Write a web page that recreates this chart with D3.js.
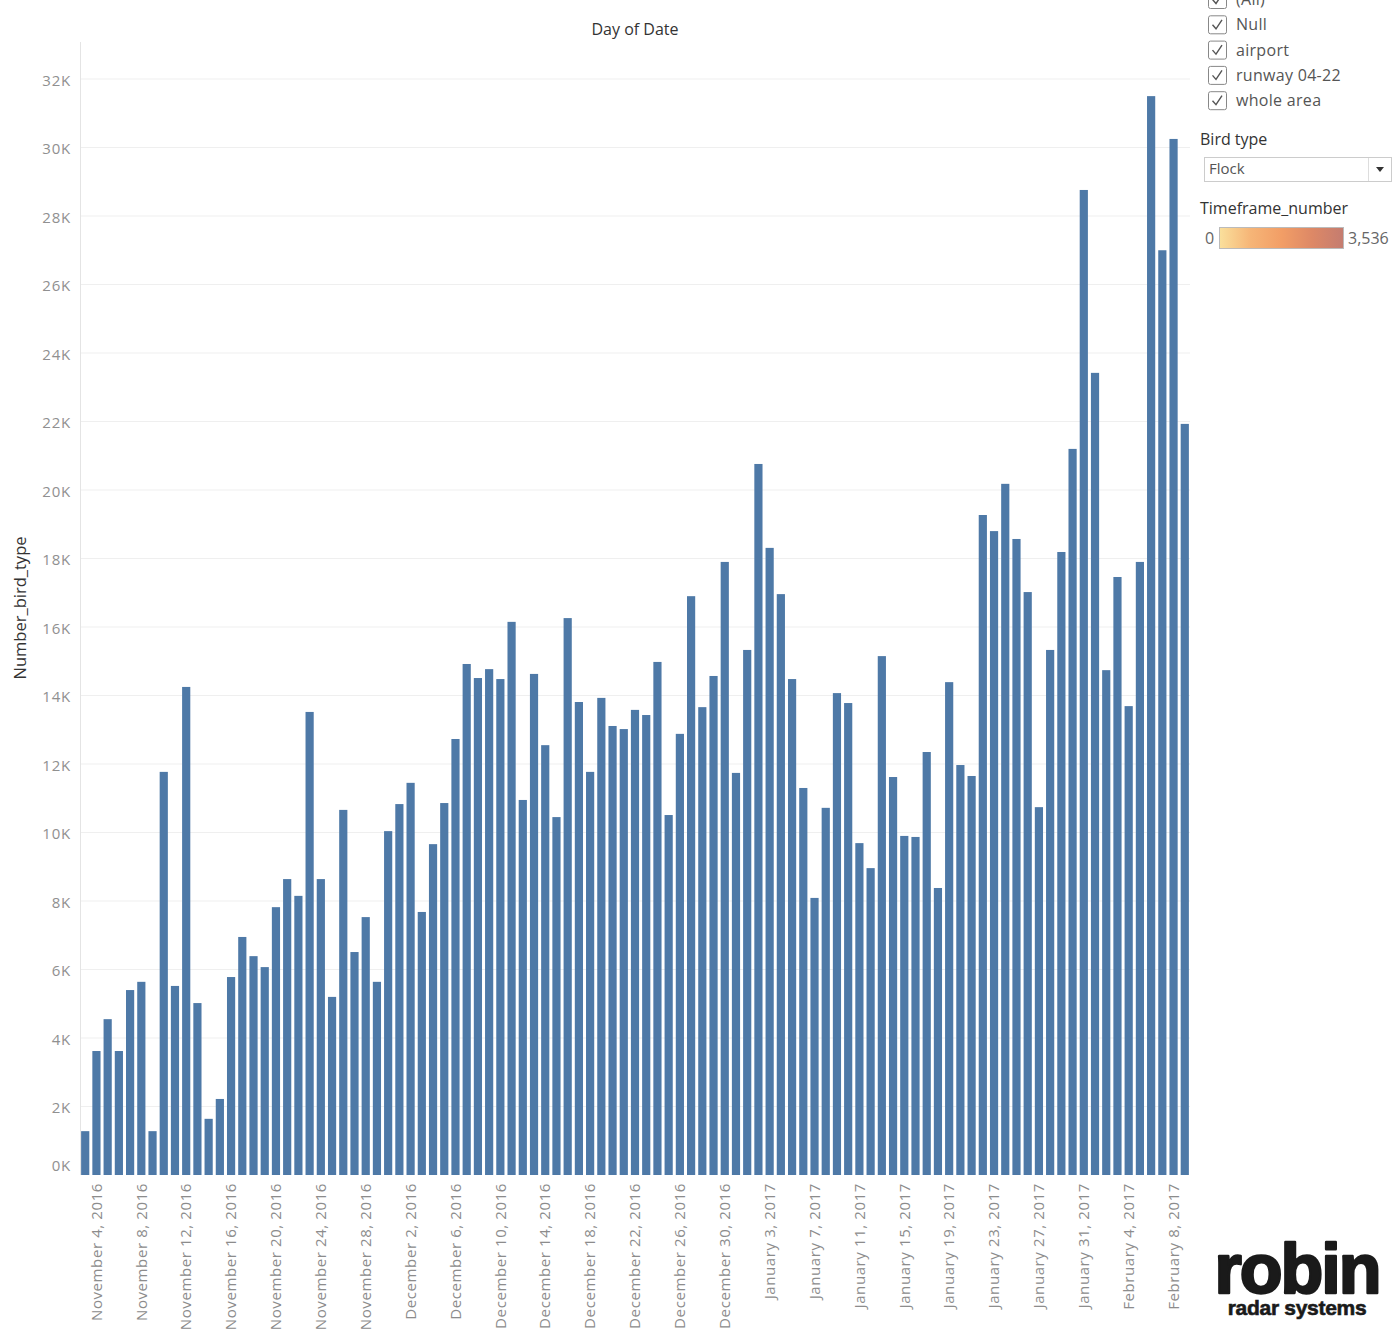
<!DOCTYPE html>
<html>
<head>
<meta charset="utf-8">
<script src="https://cdn.jsdelivr.net/npm/d3@7"></script>
<style>
  html, body { margin: 0; padding: 0; background: #fff; }
  svg { display: block; }
  text { font-family: "Open Sans", "Noto Sans", sans-serif; }
</style>
</head>
<body>
<svg id="chart" width="1396" height="1341"></svg>
<script>
// ---- data ----
const startDate = "2016-11-03";
const endDate = "2017-02-09";
const values = [
  1280, 3620, 4550, 3620, 5400, 5640, 1280, 11770, 5520, 14250,
  5020, 1640, 2220, 5780, 6950, 6390, 6070, 7820, 8640, 8150,
  13520, 8640, 5200, 10660, 6510, 7530, 5640, 10040, 10830, 11450,
  7680, 9660, 10860, 12730, 14920, 14510, 14770, 14480, 16150, 10950,
  14630, 12550, 10450, 16260, 13810, 11770, 13930, 13110, 13020, 13580,
  13430, 14980, 10510, 12880, 16900, 13660, 14570, 17900, 11740, 15330,
  20760, 18310, 16960, 14480, 11300, 8090, 10720, 14070, 13780, 9690,
  8960, 15150, 11620, 9900, 9870, 12350, 8380, 14390, 11970, 11650,
  19270, 18800, 20180, 18570, 17020, 10740, 15330, 18190, 21200, 28760,
  23420, 14740, 17460, 13690, 17900, 31500, 27000, 30250, 21930
];
const yTicks = [0, 2000, 4000, 6000, 8000, 10000, 12000, 14000, 16000, 18000, 20000, 22000, 24000, 26000, 28000, 30000, 32000];
const xTickDates = [
  "2016-11-04","2016-11-08","2016-11-12","2016-11-16","2016-11-20","2016-11-24","2016-11-28",
  "2016-12-02","2016-12-06","2016-12-10","2016-12-14","2016-12-18","2016-12-22","2016-12-26","2016-12-30",
  "2017-01-03","2017-01-07","2017-01-11","2017-01-15","2017-01-19","2017-01-23","2017-01-27","2017-01-31",
  "2017-02-04","2017-02-08"
];
const filterItems = ["(All)", "Null", "airport", "runway 04-22", "whole area"];
const birdTypeValue = "Flock";
const colorLegendMin = "0";
const colorLegendMax = "3,536";
const rampColors = ["#fae09c", "#f6b577", "#f29e66", "#dd8866", "#c47c70"];

// ---- build ----
const parse = d3.utcParse("%Y-%m-%d");
const fmtKey = d3.utcFormat("%Y-%m-%d");
const fmtLabel = d3.utcFormat("%B %-d, %Y");
const days = d3.utcDay.range(parse(startDate), d3.utcDay.offset(parse(endDate), 1)).map(fmtKey);
const data = days.map((d, i) => ({ day: d, value: values[i] }));

const svg = d3.select("#chart");
const plotLeft = 80, plotRight = 1190, plotTop = 42, plotBottom = 1175;

const x = d3.scaleBand().domain(days).range([plotLeft, plotRight]).paddingInner(0.27).paddingOuter(0.1);
const y = d3.scaleLinear().domain([0, 32000]).range([plotBottom, 79]);

// gridlines
svg.append("g")
  .selectAll("line")
  .data(yTicks.filter(t => t > 0))
  .join("line")
  .attr("x1", plotLeft).attr("x2", plotRight)
  .attr("y1", d => y(d)).attr("y2", d => y(d))
  .attr("stroke", "#efefef").attr("stroke-width", 1);

// axis line
svg.append("line")
  .attr("x1", plotLeft + 0.5).attr("x2", plotLeft + 0.5)
  .attr("y1", plotTop).attr("y2", plotBottom)
  .attr("stroke", "#e4e4e4");

// y axis
const yAxis = d3.axisLeft(y).tickValues(yTicks).tickFormat(d => (d / 1000) + "K").tickSize(0).tickPadding(9);
const yg = svg.append("g").attr("transform", `translate(${plotLeft},0)`).call(yAxis);
yg.select(".domain").remove();
yg.selectAll("text")
  .attr("fill", "#909090")
  .attr("y", d => d === 0 ? -9 : 1.5)
  .style("font-size", "15px").style("letter-spacing", "0.8px")
  .style("font-family", "'Open Sans', sans-serif");

// bars
svg.append("g")
  .selectAll("rect")
  .data(data)
  .join("rect")
  .attr("x", d => x(d.day))
  .attr("width", x.bandwidth())
  .attr("y", d => y(d.value))
  .attr("height", d => y(0) - y(d.value))
  .attr("fill", "#4e79a7");

// x axis
const xAxis = d3.axisBottom(x).tickValues(xTickDates).tickFormat(d => fmtLabel(parse(d))).tickSize(0).tickPadding(0);
const xg = svg.append("g").attr("transform", `translate(0,${plotBottom})`).call(xAxis);
xg.select(".domain").remove();
xg.selectAll("text")
  .attr("transform", "rotate(-90)")
  .attr("text-anchor", "end")
  .attr("x", -8)
  .attr("y", 0)
  .attr("dy", "0.35em")
  .attr("fill", "#8c8c8c")
  .style("font-size", "15px")
  .style("letter-spacing", "0.6px")
  .style("font-family", "'Open Sans', sans-serif");

// titles
svg.append("text").attr("x", 635).attr("y", 35).attr("text-anchor", "middle")
  .attr("fill", "#333").style("font-size", "16px").text("Day of Date");
svg.append("text").attr("transform", "translate(26,608) rotate(-90)").attr("text-anchor", "middle")
  .attr("fill", "#333").style("font-size", "16.5px").text("Number_bird_type");

// ---- right panel ----
const panel = svg.append("g");
const cb = panel.selectAll("g.cb").data(filterItems).join("g")
  .attr("transform", (d, i) => `translate(1208,${-10 + i * 25.3})`);
cb.append("rect").attr("x", 0.5).attr("y", 0.5).attr("width", 18).attr("height", 18).attr("rx", 2)
  .attr("fill", "#fff").attr("stroke", "#888");
cb.append("path").attr("d", "M4.5,9.5 L8,13.5 L14,4.5").attr("fill", "none").attr("stroke", "#555").attr("stroke-width", 1.4);
cb.append("text").attr("x", 28).attr("y", 15).attr("fill", "#555").style("font-size", "16px").style("letter-spacing", "0.3px").text(d => d);

panel.append("text").attr("x", 1200).attr("y", 145).attr("fill", "#333").style("font-size", "16px").text("Bird type");
panel.append("rect").attr("x", 1204.5).attr("y", 157.5).attr("width", 187).attr("height", 24)
  .attr("fill", "#fff").attr("stroke", "#ccc");
panel.append("line").attr("x1", 1368.5).attr("x2", 1368.5).attr("y1", 158).attr("y2", 181).attr("stroke", "#ddd");
panel.append("path").attr("d", "M1376,167 L1384,167 L1380,172 Z").attr("fill", "#333");
panel.append("text").attr("x", 1209).attr("y", 174).attr("fill", "#555").style("font-size", "15px").text(birdTypeValue);

panel.append("text").attr("x", 1200).attr("y", 214).attr("fill", "#333").style("font-size", "16px").text("Timeframe_number");
const defs = svg.append("defs");
const grad = defs.append("linearGradient").attr("id", "ramp").attr("x1", "0").attr("x2", "1").attr("y1", "0").attr("y2", "0");
grad.selectAll("stop").data(rampColors).join("stop")
  .attr("offset", (d, i) => i / (rampColors.length - 1)).attr("stop-color", d => d);
panel.append("rect").attr("x", 1219.5).attr("y", 227.5).attr("width", 124).attr("height", 21)
  .attr("fill", "url(#ramp)").attr("stroke", "#bbb");
panel.append("text").attr("x", 1205).attr("y", 244).attr("fill", "#666").style("font-size", "16px").text(colorLegendMin);
panel.append("text").attr("x", 1348).attr("y", 244).attr("fill", "#666").style("font-size", "16px").text(colorLegendMax);

// logo
svg.append("text").attr("x", 1297).attr("y", 1293).attr("text-anchor", "middle")
  .attr("fill", "#1a1a1a").attr("stroke", "#1a1a1a").attr("stroke-width", 2.5).attr("stroke-linejoin", "round")
  .style("font-family", "'Liberation Sans', Arial, sans-serif")
  .style("font-weight", "700").style("font-size", "70px").style("letter-spacing", "-2px").text("robin");
svg.append("text").attr("x", 1297).attr("y", 1315).attr("text-anchor", "middle")
  .attr("fill", "#1a1a1a").attr("stroke", "#1a1a1a").attr("stroke-width", 0.6)
  .style("font-family", "'Liberation Sans', Arial, sans-serif")
  .style("font-weight", "700").style("font-size", "21px").style("letter-spacing", "-0.3px").text("radar systems");
</script>
</body>
</html>
